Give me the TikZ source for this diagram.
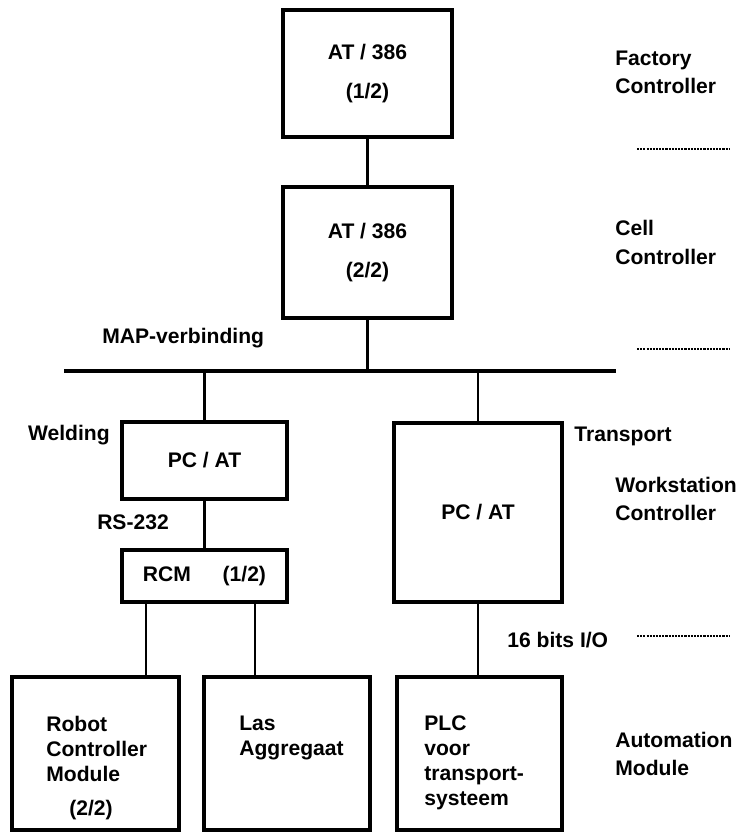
\documentclass[tikz,border=0pt]{standalone}
\usepackage{fontspec}
\setmainfont{Liberation Sans}
\usetikzlibrary{positioning,calc}

\begin{document}
\begin{tikzpicture}[every node/.style={font=\bfseries\fontsize{12}{16}\selectfont},
 blk/.style={draw,line width=1.8pt,inner sep=0pt,align=center},
 two/.style={font=\bfseries\fontsize{12}{22}\selectfont},
 ln/.style={line width=1.2pt},
 lbl/.style={align=left,anchor=west,inner sep=0pt},
 txt/.style={align=left,anchor=north west,inner sep=0pt,font=\bfseries\fontsize{12}{14.2}\selectfont},
 sep/.style={line width=0.6pt,dash pattern=on 1.2pt off 0.6pt}]
\useasboundingbox (0,0) rectangle (14.78,16.66);
% controllers
\node[blk,two,minimum width=3.38cm,minimum height=2.54cm] (fc) at (7.35,15.19) {AT / 386\\(1/2)};
\node[blk,two,minimum width=3.38cm,minimum height=2.62cm] (cc) at (7.35,11.61) {AT / 386\\(2/2)};
\coordinate (busw) at (1.28,9.24);
\coordinate (buse) at (12.32,9.24);
\node[blk,minimum width=3.30cm,minimum height=1.54cm] (wpc) at (4.09,7.45) {PC / AT};
\node[blk,minimum width=3.30cm,minimum height=1.04cm] (rcm) at (4.09,5.14) {RCM\hspace{1.5em}(1/2)};
\node[blk,minimum width=3.36cm,minimum height=3.58cm] (tpc) at (9.56,6.41) {PC / AT};
% modules
\node[blk,minimum width=3.34cm,minimum height=3.06cm] (rcb) at (1.91,1.59) {};
\node[blk,minimum width=3.32cm,minimum height=3.06cm] (las) at (5.74,1.59) {};
\node[blk,minimum width=3.30cm,minimum height=3.06cm] (plc) at (9.59,1.59) {};
\node[txt] (rcbt) at (0.92,2.35) {Robot\\Controller\\Module\\[0.2cm]\hspace*{0.46cm}(2/2)};
\node[txt] (last) at (4.78,2.35) {Las\\Aggregaat};
\node[txt] (plct) at (8.48,2.35) {PLC\\voor\\transport-\\systeem};
% labels
\node[lbl] (map) at (2.04,9.90) {MAP-verbinding};
\node[anchor=east,inner sep=0pt] (weld) at (2.20,7.96) {Welding};
\node[inner sep=0pt] (rs) at (2.66,6.22) {RS-232};
\node[lbl] (trans) at (11.48,7.94) {Transport};
\node[lbl] (io) at (10.14,3.86) {16 bits I/O};
\node[lbl] (lfc) at (12.30,15.22) {Factory\\Controller};
\node[lbl] (lcc) at (12.30,11.81) {Cell\\Controller};
\node[lbl] (lwc) at (12.30,6.68) {Workstation\\Controller};
\node[lbl] (lam) at (12.30,1.58) {Automation\\Module};
% separators
\draw[sep] (12.74,13.68) -- (14.60,13.68);
\draw[sep] (12.74,9.68) -- (14.60,9.68);
\draw[sep] (12.74,3.94) -- (14.60,3.94);
% connections
\draw[ln] (fc) -- (cc);
\draw[ln] (cc) -- (cc |- busw);
\draw[line width=1.8pt] (busw) -- (buse);
\draw[ln] (wpc.north |- busw) -- (wpc);
\draw[ln] (tpc.north |- busw) -- (tpc);
\draw[ln] (wpc) -- (rcm);
\coordinate (r1) at ([xshift=0.52cm]rcm.south west);
\coordinate (r2) at ([xshift=2.70cm]rcm.south west);
\draw[ln] (r1) -- (r1 |- rcb.north);
\draw[ln] (r2) -- (r2 |- las.north);
\draw[ln] (tpc) -- (tpc.south |- plc.north);
\end{tikzpicture}
\end{document}
